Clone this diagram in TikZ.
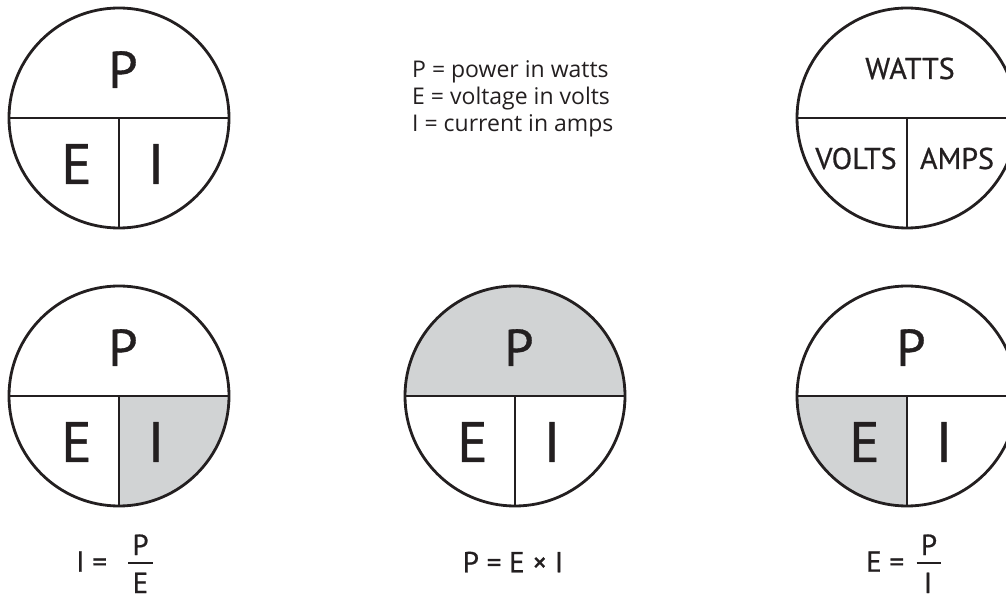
\documentclass[tikz,border=0pt]{standalone}
\usepackage{fontspec}
\setmainfont{PT Sans}
\newfontfamily\heavyfont[FakeBold=0.7]{PT Sans}
\newfontfamily\legendfont{Open Sans}
\definecolor{ink}{HTML}{231F20}
\definecolor{shade}{HTML}{D1D3D4}
\newcommand\fsz[1]{\fontsize{#1}{#1}\selectfont}
\tikzset{
  ring/.style={circle, draw=ink, line width=2.8pt, minimum size=220pt, inner sep=0pt, outer sep=0pt},
  divline/.style={draw=ink, line width=2.8pt},
  shadefill/.style={fill=shade},
  bigP/.style={text=ink, font=\heavyfont\fsz{52}, anchor=base, inner sep=0pt},
  bigL/.style={text=ink, font=\heavyfont\fsz{57}, anchor=base, inner sep=0pt},
  wordlbl/.style={text=ink, font=\heavyfont\fsz{30}, anchor=base, inner sep=0pt},
  legend/.style={text=ink, font=\legendfont\fsz{23}, anchor=base west, inner sep=0pt},
  formula/.style={text=ink, font=\heavyfont\fsz{29}, anchor=base, inner sep=0pt},
  fracbar/.style={draw=ink, line width=2.2pt},
}
\begin{document}
\begin{tikzpicture}[x=1pt,y=1pt]
\useasboundingbox (0,0) rectangle (1006,597);
\clip (0,0) rectangle (1006,597);
% centres
\coordinate (o1) at (119,479);
\coordinate (o2) at (907,479);
\coordinate (o4) at (119,201);
\coordinate (o5) at (515,201);
\coordinate (o6) at (907,201);
% shaded sectors
\fill[shadefill] (o4) -- ++(110,0) arc[start angle=0, end angle=-90, radius=110] -- cycle;
\fill[shadefill] (o5) ++(-110,0) arc[start angle=180, end angle=0, radius=110] -- cycle;
\fill[shadefill] (o6) -- ++(-110,0) arc[start angle=180, end angle=270, radius=110] -- cycle;
% circles
\foreach \c in {o1,o2,o4,o5,o6}{
  \node[ring] (r\c) at (\c) {};
  \draw[divline] (r\c.west) -- (r\c.east);
  \draw[divline] (r\c.center) -- (r\c.south);
}
% top-left letters
\node[bigP] (p1) at ([xshift=4pt,yshift=30pt]o1) {P};
\node[bigL] (e1) at ([xshift=-42.5pt,yshift=-66pt]o1) {E};
\node[bigL] (i1) at ([xshift=37pt,yshift=-66pt]o1) {I};
% bottom letters
\node[bigP] (p4) at ([xshift=4pt,yshift=30pt]o4) {P};
\node[bigL] (e4) at ([xshift=-42.5pt,yshift=-66pt]o4) {E};
\node[bigL] (i4) at ([xshift=37pt,yshift=-66pt]o4) {I};
\node[bigP] (p5) at ([xshift=4pt,yshift=30pt]o5) {P};
\node[bigL] (e5) at ([xshift=-42.5pt,yshift=-66pt]o5) {E};
\node[bigL] (i5) at ([xshift=37pt,yshift=-66pt]o5) {I};
\node[bigP] (p6) at ([xshift=4pt,yshift=30pt]o6) {P};
\node[bigL] (e6) at ([xshift=-42.5pt,yshift=-66pt]o6) {E};
\node[bigL] (i6) at ([xshift=37pt,yshift=-66pt]o6) {I};
% top-right words
\node[wordlbl] (w2) at ([xshift=3pt,yshift=39pt]o2) {WATTS};
\node[wordlbl] (v2) at ([xshift=-51pt,yshift=-51pt]o2) {VOLTS};
\node[wordlbl] (a2) at ([xshift=50pt,yshift=-51pt]o2) {AMPS};
% legend
\node[legend] (leg1) at (412,519) {P = power in watts};
\node[legend] (leg2) at (412,492) {E = voltage in volts};
\node[legend] (leg3) at (412,465) {I = current in amps};
% formula left
\node[formula, anchor=base west] (fl) at (76,25.3) {I =};
\coordinate (bl1) at (128.3,33.7);
\coordinate (bl2) at (152.7,33.7);
\draw[fracbar] (bl1) -- (bl2);
\node[formula] (fln) at (140.5,42) {P};
\node[formula] (fld) at (140.5,4) {E};
% formula middle
\node[formula] (fm) at (513,24.7) {P = E × I};
% formula right
\node[formula, anchor=base west] (fr) at (866,25.3) {E =};
\coordinate (br1) at (916.7,33.7);
\coordinate (br2) at (941,33.7);
\draw[fracbar] (br1) -- (br2);
\node[formula] (frn) at (929,42) {P};
\node[formula] (frd) at (928,4) {I};
\end{tikzpicture}
\end{document}
